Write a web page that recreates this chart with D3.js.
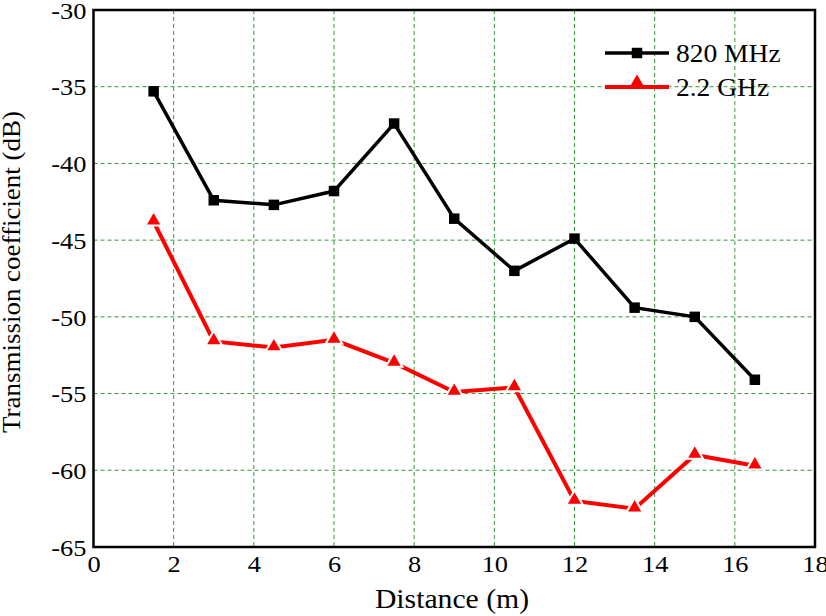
<!DOCTYPE html>
<html><head><meta charset="utf-8">
<script src="https://cdn.jsdelivr.net/npm/d3@7"></script>
<style>body{margin:0;background:#fff}svg{display:block}text{font-family:"Liberation Serif","Times New Roman",serif;fill:#000}</style>
</head><body><svg id="c" width="826" height="616"></svg>
<script>
const distances = [1.5,3,4.5,6,7.5,9,10.5,12,13.5,15,16.5];
const mhz820 = [-35.3,-42.4,-42.7,-41.8,-37.4,-43.6,-47.0,-44.9,-49.4,-50.0,-54.1];
const ghz22 = [-43.8,-51.6,-52.0,-51.5,-53.0,-54.9,-54.6,-62.0,-62.5,-59.0,-59.7];
const xTicks = [0,2,4,6,8,10,12,14,16,18];
const yTicks = [-65,-60,-55,-50,-45,-40,-35,-30];
const seriesNames = ["820 MHz","2.2 GHz"];

const svg = d3.select("#c");
const L=93.5,R=815,T=10,B=547;
const SX = "scale(1.1,1)";
const x = d3.scaleLinear().domain([0,18]).range([L,R]);
const y = d3.scaleLinear().domain([-65,-30]).range([B,T]);

const grid = svg.append("g").attr("stroke","#339933").attr("stroke-width",1).attr("stroke-dasharray","4,3");
xTicks.slice(1,-1).forEach(t=>grid.append("line").attr("x1",x(t)).attr("x2",x(t)).attr("y1",T).attr("y2",B));
yTicks.slice(1,-1).forEach(t=>grid.append("line").attr("x1",L).attr("x2",R).attr("y1",y(t)).attr("y2",y(t)));

svg.append("rect").attr("x",L).attr("y",T).attr("width",R-L).attr("height",B-T).attr("fill","none").attr("stroke","#000").attr("stroke-width",2.5);

const fmt = d=>String(d);
const xAxis = svg.append("g").attr("transform",`translate(0,${B})`).call(d3.axisBottom(x).tickValues(xTicks).tickFormat(fmt).tickSize(0).tickPadding(9));
const yAxis = svg.append("g").attr("transform",`translate(${L},0)`).call(d3.axisLeft(y).tickValues(yTicks).tickFormat(fmt).tickSize(0).tickPadding(7));
[xAxis,yAxis].forEach(a=>{a.select(".domain").remove();a.selectAll("text").style("font-family","Liberation Serif").style("font-size","24px").attr("fill","#000").attr("transform",SX);});
yAxis.selectAll("text").attr("x",-7/1.1).attr("dy","0.34em");
xAxis.selectAll("text").attr("dy","0.68em");

svg.append("text").attr("transform",`translate(452,608) ${SX}`).attr("text-anchor","middle").style("font-size","27px").text("Distance (m)");
svg.append("text").attr("transform",`translate(20,272) rotate(-90) ${SX}`).attr("text-anchor","middle").style("font-size","24.5px").text("Transmission coefficient (dB)");

const line = d3.line().x(d=>x(d[0])).y(d=>y(d[1]));
const d1 = distances.map((d,i)=>[d,mhz820[i]]);
const d2 = distances.map((d,i)=>[d,ghz22[i]]);
svg.append("path").datum(d1).attr("d",line).attr("fill","none").attr("stroke","#000").attr("stroke-width",3.5);
svg.append("path").datum(d2).attr("d",line).attr("fill","none").attr("stroke","#f00").attr("stroke-width",4);
const sq = d3.symbol().type(d3.symbolSquare).size(110);
const tri = d3.symbol().type(d3.symbolTriangle).size(120);
svg.append("g").selectAll("path").data(d1).join("path").attr("d",sq).attr("transform",d=>`translate(${x(d[0])},${y(d[1])})`).attr("fill","#000");
svg.append("g").selectAll("path").data(d2).join("path").attr("d",tri).attr("transform",d=>`translate(${x(d[0])},${y(d[1])-1})`).attr("fill","#f00").attr("stroke","#fff").attr("stroke-width",2);

const leg = svg.append("g");
const ly=[53,87];
leg.append("line").attr("x1",605).attr("x2",669).attr("y1",ly[0]).attr("y2",ly[0]).attr("stroke","#000").attr("stroke-width",3.5);
leg.append("path").attr("d",sq).attr("transform",`translate(637,${ly[0]})`).attr("fill","#000");
leg.append("line").attr("x1",605).attr("x2",669).attr("y1",ly[1]).attr("y2",ly[1]).attr("stroke","#f00").attr("stroke-width",4);
leg.append("path").attr("d",tri).attr("transform",`translate(637,${ly[1]-3})`).attr("fill","#f00");
seriesNames.forEach((n,i)=>leg.append("text").attr("transform",`translate(676,${ly[i]}) ${SX}`).attr("dy","0.35em").style("font-size","25px").text(n));
</script></body></html>
